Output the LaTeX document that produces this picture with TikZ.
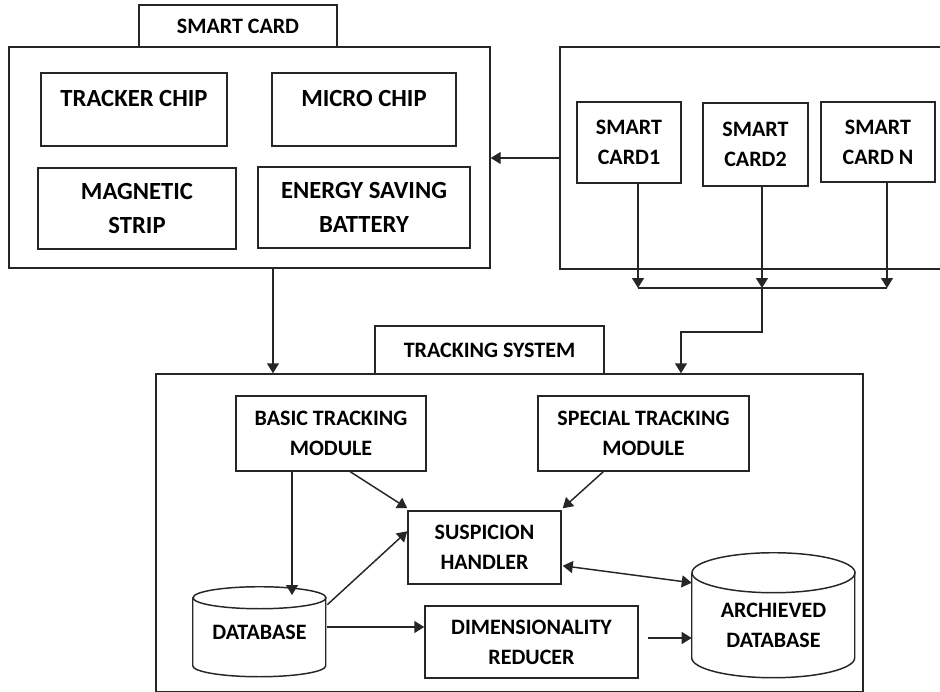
\documentclass[tikz,border=0pt]{standalone}
\usepackage{fontspec}
\setmainfont{Carlito}
\usetikzlibrary{arrows.meta,calc}
\tikzset{
  box/.style={draw=black!85, line width=1.1pt, rectangle, inner sep=0pt, align=center},
  bigbox/.style={box, font=\fontsize{18.5}{25.5}\selectfont\bfseries},
  plain/.style={draw=none, rectangle, inner sep=0pt, align=center},
  arr/.style={draw=black!85, line width=1.1pt, -{Triangle[length=7.5pt,width=9pt]}},
  arrboth/.style={draw=black!85, line width=1.1pt, {Triangle[length=7.5pt,width=9pt]}-{Triangle[length=7.5pt,width=9pt]}},
  wire/.style={draw=black!85, line width=1.1pt},
}
\newcommand\bx[7][box]{\node[#1, minimum width={(#5-#3)*0.75pt}, minimum height={(#6-#4)*0.75pt}] (#2) at ({(#3+#5)/2},{(#4+#6)/2}) {#7};}
\begin{document}
\begin{tikzpicture}[x=0.75pt,y=-0.75pt,font=\fontsize{16.5}{22.5}\selectfont\bfseries]
\useasboundingbox (0,0) rectangle (940,692);
% smart card group
\bx{sctab}{139}{5}{337}{47}{SMART CARD}
\bx{sc}{9}{47}{490}{268}{}
\bx[bigbox]{tc}{41}{73}{227}{146}{TRACKER CHIP\\[-17pt]\strut}
\bx[bigbox]{mc}{272}{73}{456}{146}{MICRO CHIP\\[-17pt]\strut}
\bx[bigbox]{ms}{38}{168}{236}{249}{MAGNETIC\\STRIP}
\bx[bigbox]{esb}{258}{167}{470}{248}{ENERGY SAVING\\BATTERY}
% right group
\bx{rb}{560}{47}{960}{269}{}
\bx{c1}{577}{102}{681}{183}{SMART\\CARD1}
\bx{c2}{703}{103}{808}{186}{SMART\\CARD2}
\bx{cn}{821}{102}{935}{182}{SMART\\CARD N}
% tracking system
\bx{tstab}{375}{326}{604}{374}{TRACKING SYSTEM}
\bx{ts}{156}{374}{863}{692}{}
\bx{btm}{236}{396}{426}{471}{BASIC TRACKING\\MODULE}
\bx{stm}{538}{396}{749}{471}{SPECIAL TRACKING\\MODULE}
\bx{sh}{408}{511}{561}{584}{SUSPICION\\HANDLER}
\bx{dr}{425}{606}{638}{678}{DIMENSIONALITY\\REDUCER}
\bx[plain]{db}{193}{587}{326}{677}{DATABASE}
\bx[plain]{arch}{692}{573}{855}{678}{ARCHIEVED\\DATABASE}
% cylinders
\draw[wire] ($(db.north)+(0,11)$) ellipse [x radius=66.5, y radius=11];
\draw[wire] ($(db.north west)+(0,11)$) -- ++(0,68) arc[start angle=180, end angle=0, x radius=66.5, y radius=11] -- ++(0,-68);
\draw[wire] (arch.north) ellipse [x radius=81.5, y radius=20];
\draw[wire] (arch.north west) -- ++(0,85) arc[start angle=180, end angle=0, x radius=81.5, y radius=20] -- ++(0,-85);
% connectors top
\draw[arr] (rb.west) -- (sc.east |- rb.west);
\coordinate (p1) at (273,0);
\draw[arr] (sc.south -| p1) -- (ts.north -| p1);
\coordinate (bar1) at (638,288);
\coordinate (bar2) at (762,288);
\coordinate (barn) at (887,288);
\coordinate (j) at (681,332);
\draw[arr] (c1.south -| bar1) -- (bar1);
\draw[arr] (c2.south -| bar2) -- (bar2);
\draw[arr] (cn.south -| barn) -- (barn);
\draw[wire] (bar1) -- (barn);
\draw[arr] (bar2) |- (j) -- (ts.north -| j);
% connectors inside tracking system
\coordinate (dbtop) at (292,595);
\draw[arr] (btm.south -| dbtop) -- (dbtop);
\draw[arr] ($(btm.south west)+(115,0)$) -- ($(sh.north west)+(0,-2)$);
\draw[arr] ($(stm.south west)+(66,0)$) -- ($(sh.north east)+(1,-2)$);
\draw[arr] ($(db.north east)+(1,18)$) -- ($(sh.north west)+(0,21)$);
\coordinate (r) at ($(db.east)+(1,-5)$);
\draw[arr] (r) -- (r -| dr.west);
\draw[arrboth] ($(sh.south east)+(1,-19)$) -- ($(arch.north west)+(0,10)$);
\coordinate (q) at ($(dr.east)+(9,-4)$);
\draw[arr] (q) -- (q -| arch.west);
\end{tikzpicture}
\end{document}
